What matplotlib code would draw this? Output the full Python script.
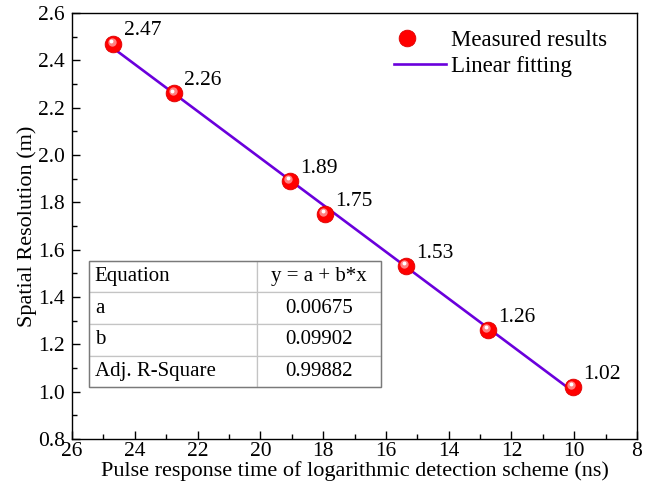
import matplotlib.pyplot as plt
import matplotlib.transforms as mtransforms
from matplotlib.lines import Line2D
from matplotlib.legend_handler import HandlerTuple
from matplotlib.patches import Rectangle
from matplotlib.table import Table
from matplotlib.ticker import MultipleLocator
import numpy as np

plt.rcParams['font.family'] = ['Liberation Serif', 'DejaVu Serif']

# pulse response time (ns) and measured spatial resolution (m)
pulse_time = [24.69, 22.75, 19.06, 17.94, 15.36, 12.75, 10.04]
resolution = [2.47, 2.26, 1.89, 1.75, 1.53, 1.26, 1.02]

# linear fit parameters
fit_a = 0.00675
fit_b = 0.09902
adj_r2 = 0.99882

table_rows = [
    ["Equation", "y = a + b*x"],
    ["a", f"{fit_a:.5f}"],
    ["b", f"{fit_b:.5f}"],
    ["Adj. R-Square", f"{adj_r2:.5f}"],
]

fig = plt.figure(figsize=(6.56, 4.88), dpi=100)
ax = fig.add_axes([0.1098, 0.1004, 0.8612, 0.873])

line_color = '#6a00dc'
xfit = np.array([min(pulse_time), max(pulse_time)])
fit_line, = ax.plot(xfit, fit_a + fit_b * xfit, color=line_color, lw=1.9, zorder=2)

# red spheres: base disc plus offset highlights
base, = ax.plot(pulse_time, resolution, 'o', ms=12, color='#ff0000',
                mec='#dd0000', mew=0.6, ls='none', zorder=3)
glow_tr = mtransforms.offset_copy(ax.transData, fig=fig, x=-1.5, y=2.0, units='dots')
ax.plot(pulse_time, resolution, 'o', ms=6, color='#ff8080', mec='none',
        ls='none', zorder=4, transform=glow_tr)
hl_tr = mtransforms.offset_copy(ax.transData, fig=fig, x=-2.0, y=2.8, units='dots')
ax.plot(pulse_time, resolution, 'o', ms=2.8, color='white', mec='none',
        ls='none', zorder=5, transform=hl_tr)

for x, y in zip(pulse_time, resolution):
    ax.annotate(f"{y:.2f}", (x, y), xytext=(7.5, 6), textcoords='offset points',
                fontsize=15.5, ha='left', va='baseline')

ax.set_xlim(26, 8)
ax.set_ylim(0.8, 2.6)
ax.xaxis.set_major_locator(MultipleLocator(2))
ax.xaxis.set_minor_locator(MultipleLocator(1))
ax.yaxis.set_major_locator(MultipleLocator(0.2))
ax.yaxis.set_minor_locator(MultipleLocator(0.1))
ax.set_xticks(np.arange(26, 7, -2))
ax.set_xticklabels([str(v) for v in range(26, 7, -2)])
ax.set_yticks(np.arange(0.8, 2.61, 0.2))
ax.set_yticklabels([f"{v:.1f}" for v in np.arange(0.8, 2.61, 0.2)])
ax.tick_params(which='both', direction='in', labelsize=15.5, width=1.0)
ax.tick_params(which='major', length=6)
ax.tick_params(which='minor', length=3.5)
ax.tick_params(axis='x', pad=2)
ax.tick_params(axis='y', pad=5)
for s in ax.spines.values():
    s.set_linewidth(1.0)

ax.set_xlabel("Pulse response time of logarithmic detection scheme (ns)", fontsize=16, labelpad=0.5)
ax.set_ylabel("Spatial Resolution (m)", fontsize=16, labelpad=1)

# legend
sphere_hl = Line2D([], [], marker='o', ms=2.8, color='white', mec='none', ls='none')
ax.legend([(base, sphere_hl), fit_line], ["Measured results", "Linear fitting"],
          handler_map={tuple: HandlerTuple(ndivide=None)},
          loc='upper left', bbox_to_anchor=(0.570, 0.960), frameon=False,
          fontsize=16.5, borderpad=0, borderaxespad=0, handlelength=2.25,
          handletextpad=0.25, labelspacing=0.22, numpoints=1)

# fit parameter table
tb_x, tb_y, tb_w, tb_h = 0.030, 0.122, 0.517, 0.296
col_w = [0.575, 0.425]
tbl = Table(ax, bbox=[tb_x, tb_y, tb_w, tb_h])
for r, row in enumerate(table_rows):
    for c, txt in enumerate(row):
        cell = tbl.add_cell(r, c, col_w[c], 1.0 / len(table_rows), text=txt,
                            loc='left' if c == 0 else 'center',
                            edgecolor='#c4c4c4', facecolor='white')
        cell.PAD = 0.035
        cell.set_linewidth(0.9)
tbl.auto_set_font_size(False)
tbl.set_fontsize(15)
ax.add_table(tbl)
ax.add_patch(Rectangle((tb_x, tb_y), tb_w, tb_h, transform=ax.transAxes,
                       fill=False, ec='#7a7a7a', lw=1.0, zorder=10))

fig.savefig('out.png', dpi=100)
